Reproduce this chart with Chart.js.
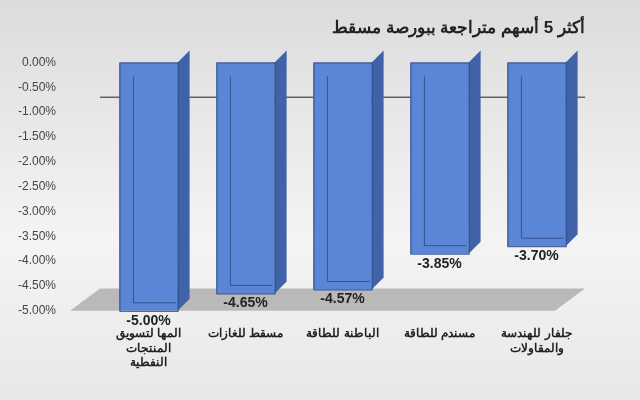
<!DOCTYPE html>
<html><head><meta charset="utf-8">
<script src="https://cdn.jsdelivr.net/npm/chart.js@4/dist/chart.umd.min.js"></script>
<style>html,body{margin:0;padding:0}body{width:640px;height:400px;background:linear-gradient(#dcdcdc,#f4f4f4 60%,#e8e8e8)}</style>
</head><body><canvas id="c" width="640" height="400"></canvas>
<script>
const categories=[["المها لتسويق","المنتجات","النفطية"],"مسقط للغازات","الباطنة للطاقة","مسندم للطاقة",["جلفار للهندسة","والمقاولات"]];
const values=[-5.00,-4.65,-4.57,-3.85,-3.70];
const title="أكثر 5 أسهم متراجعة ببورصة مسقط";
const depth={id:'d3',beforeDatasetsDraw(ch){const c=ch.ctx,a=ch.chartArea,y=ch.scales.y;
 c.save();c.fillStyle='#b9b9b9';c.beginPath();c.moveTo(a.left-30,y.getPixelForValue(-5));c.lineTo(a.left,y.getPixelForValue(-4.55));c.lineTo(a.right,y.getPixelForValue(-4.55));c.lineTo(a.right-30,y.getPixelForValue(-5));c.closePath();c.fill();
 c.strokeStyle='#222';c.lineWidth=1;c.beginPath();c.moveTo(a.left,y.getPixelForValue(-0.7));c.lineTo(a.right,y.getPixelForValue(-0.7));c.stroke();c.restore();},
 afterDatasetsDraw(ch){const c=ch.ctx;const m=ch.getDatasetMeta(0);c.save();m.data.forEach((b,i)=>{const w=b.width,x0=b.x-w/2,x1=b.x+w/2,t=b.y,bt=b.base;
 c.fillStyle='#3f62a8';c.beginPath();c.moveTo(x1,bt);c.lineTo(x1+12,bt-12);c.lineTo(x1+12,t-12);c.lineTo(x1,t);c.closePath();c.fill();
 c.strokeStyle='#2c4a8a';c.strokeRect(x0+0.5,bt+0.5,w,t-bt);
 c.strokeStyle='#35508f';c.beginPath();c.moveTo(x0+14,bt+14);c.lineTo(x0+14,t-8);c.lineTo(x1-2,t-8);c.stroke();
 c.fillStyle='#222';c.font='bold 14px Arial';c.textAlign='center';c.fillText(values[i].toFixed(2)+'%',b.x,t+14);});c.restore();}};
new Chart(document.getElementById('c'),{type:'bar',data:{labels:categories,datasets:[{data:values,backgroundColor:'#5b86d6',barPercentage:0.6,categoryPercentage:1}]},
options:{responsive:false,animation:false,layout:{padding:{left:0,right:55,top:0,bottom:22}},
plugins:{legend:{display:false},tooltip:{enabled:false},title:{display:true,text:title,align:'end',color:'#222',font:{size:17,weight:'bold',family:'Arial'},padding:{top:18,bottom:24}}},
scales:{x:{offset:true,grid:{display:false},border:{display:false},ticks:{color:'#222',font:{size:12,weight:'bold',family:'Arial'},maxRotation:0,padding:8}},
y:{min:-5,max:0,afterFit:s=>{s.width=100},ticks:{padding:36,stepSize:0.5,color:'#444',font:{size:12,family:'Arial'},callback:v=>v.toFixed(2)+'%'},grid:{display:false},border:{display:false}}}},
plugins:[depth]});
</script></body></html>
